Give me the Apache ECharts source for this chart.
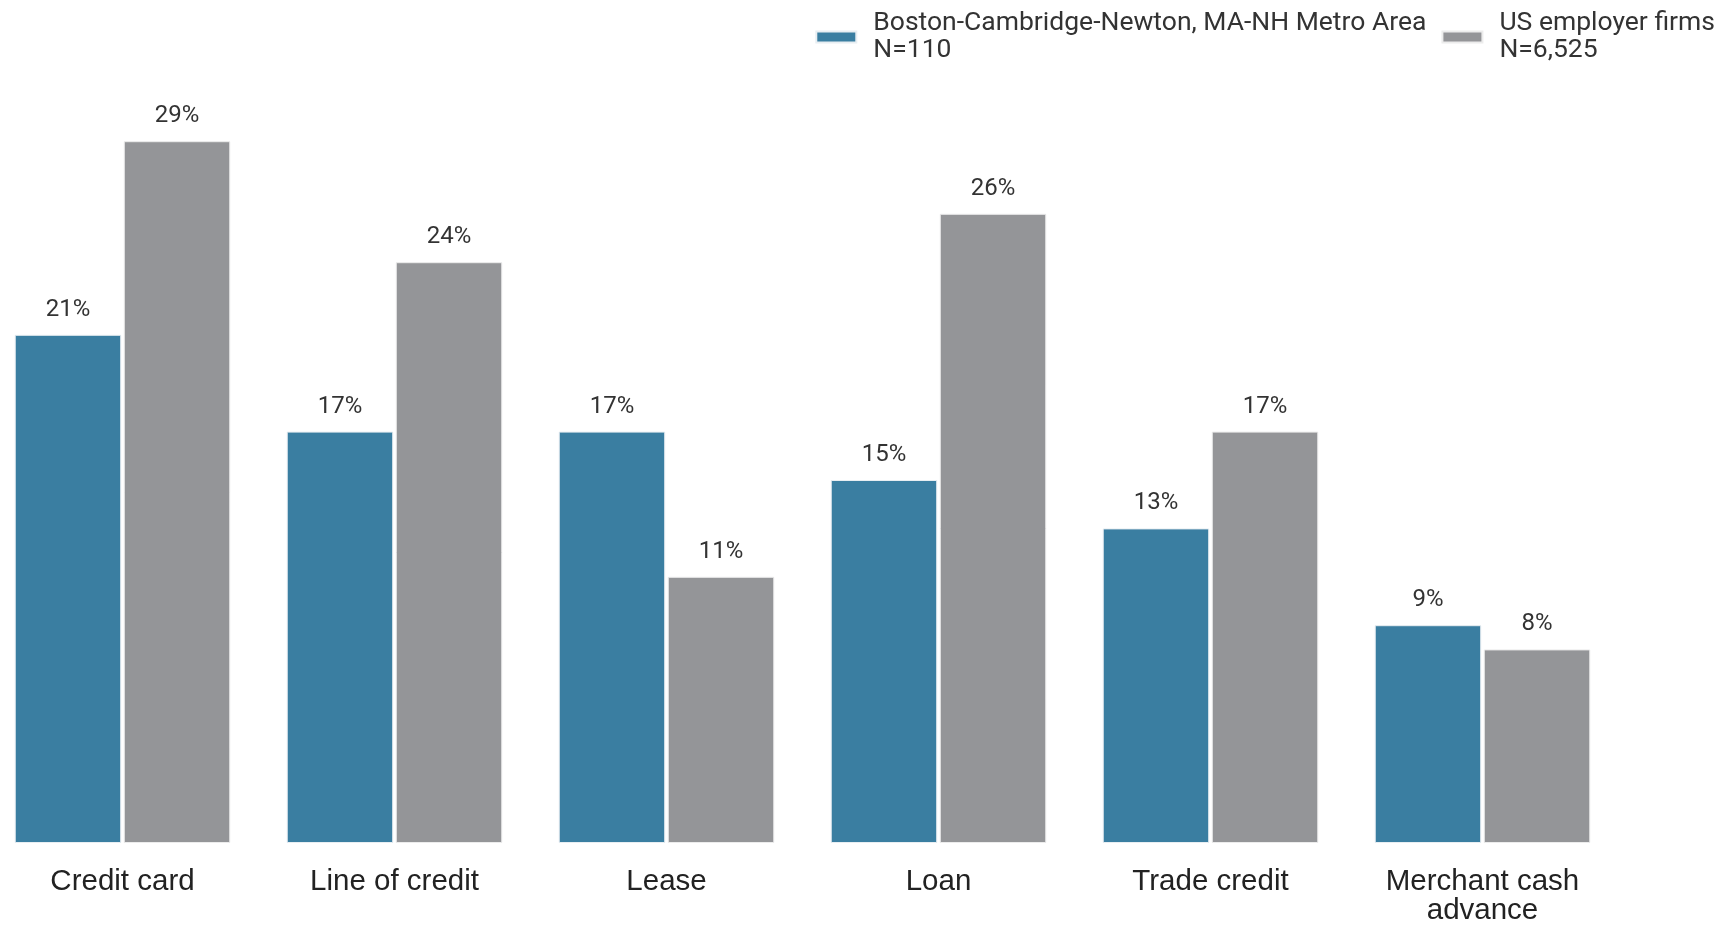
<!DOCTYPE html>
<html>
<head>
<meta charset="utf-8">
<script src="https://cdn.jsdelivr.net/npm/echarts@6/dist/echarts.min.js"></script>
<style>
html,body{margin:0;padding:0;background:#fff;}
#chart{width:1727px;height:925px;}
</style>
</head>
<body>
<div id="chart"></div>
<script>
const categories = ['Credit card', 'Line of credit', 'Lease', 'Loan', 'Trade credit', 'Merchant cash\nadvance'];
const bostonValues = [21, 17, 17, 15, 13, 9];
const usValues = [29, 24, 11, 26, 17, 8];
const seriesNames = ['Boston-Cambridge-Newton, MA-NH Metro Area', 'US employer firms'];
const sampleSizes = ['N=110', 'N=6,525'];
const colors = ['#3a7ea1', '#949598'];

const chart = echarts.init(document.getElementById('chart'));
const labelStyle = {
  show: true,
  position: 'top',
  distance: 13,
  formatter: p => p.value + '%',
  fontFamily: 'Roboto',
  fontSize: 24,
  color: '#333'
};
chart.setOption({
  animation: false,
  legend: {
    right: 7,
    top: 5,
    itemWidth: 40,
    itemHeight: 11,
    itemGap: 15,
    icon: 'rect',
    data: seriesNames,
    formatter: name => name + '\n' + sampleSizes[seriesNames.indexOf(name)],
    textStyle: { fontFamily: 'Roboto', fontSize: 26.5, lineHeight: 27, color: '#333', padding: [0, 0, 0, 12] }
  },
  grid: { left: -13.5, width: 1632, top: 117, bottom: 82, containLabel: false, outerBoundsMode: 'none' },
  xAxis: {
    type: 'category',
    data: categories,
    axisLine: { show: false },
    axisTick: { show: false },
    axisLabel: {
      margin: 24,
      fontFamily: 'Liberation Sans, Arial, sans-serif',
      fontSize: 29.5,
      lineHeight: 29,
      color: '#222',
      interval: 0
    }
  },
  yAxis: { type: 'value', min: 0, max: 30, show: false, splitLine: { show: false } },
  series: [
    {
      name: seriesNames[0], type: 'bar', data: bostonValues, barWidth: 106.5, barGap: '2.4%',
      itemStyle: { color: colors[0], borderColor: '#e8eef2', borderWidth: 1 },
      label: labelStyle
    },
    {
      name: seriesNames[1], type: 'bar', data: usValues, barWidth: 106.5,
      itemStyle: { color: colors[1], borderColor: '#ececec', borderWidth: 1 },
      label: labelStyle
    }
  ]
});
</script>
</body>
</html>
